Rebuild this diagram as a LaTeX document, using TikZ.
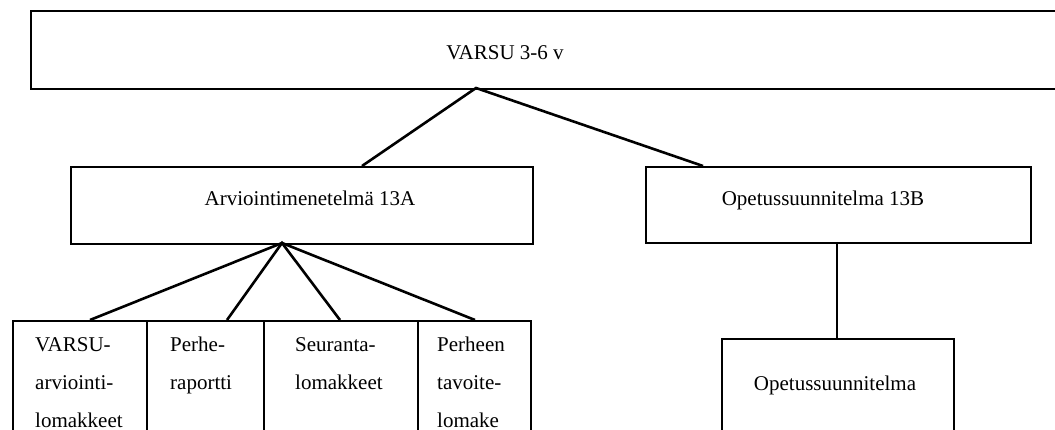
\documentclass[tikz,border=0pt]{standalone}
\usepackage{fontspec}
\setmainfont{Liberation Serif}
\begin{document}
\begin{tikzpicture}[x=1pt,y=-1pt,
  box/.style={draw, line width=1.6pt, inner sep=0pt, anchor=north west},
  lbl/.style={font=\fontsize{21}{38}\selectfont, inner sep=0pt},
  cell/.style={lbl, align=left, anchor=north west},
  link/.style={line width=2.6pt, line join=miter}]
\useasboundingbox (0,0) rectangle (1055,430);
\clip (0,0) rectangle (1055,430);
% boxes
\node[box, minimum width=1050, minimum height=78] (top) at (30,10) {};
\node[box, minimum width=462, minimum height=77] (arv) at (70,166) {};
\node[box, minimum width=385, minimum height=76] (opb) at (645,166) {};
\node[box, minimum width=232, minimum height=102] (ops) at (721,338) {};
\node[box, minimum width=134, minimum height=120] (b1) at (12,320) {};
\node[box, minimum width=117, minimum height=120] (b2) at (146,320) {};
\node[box, minimum width=154, minimum height=120] (b3) at (263,320) {};
\node[box, minimum width=113, minimum height=120] (b4) at (417,320) {};
% texts
\node[lbl, anchor=base] (ttop) at (505,60) {VARSU 3-6 v};
\node[lbl, anchor=base] (tarv) at (310,206) {Arviointimenetelmä 13A};
\node[lbl, anchor=base] (topb) at (823,206) {Opetussuunnitelma 13B};
\node[lbl, anchor=base] (tops) at (835,390) {Opetussuunnitelma};
\node[cell] (t1) at (35,337) {VARSU-\\arviointi-\\lomakkeet};
\node[cell] (t2) at (170,337) {Perhe-\\raportti};
\node[cell] (t3) at (295,337) {Seuranta-\\lomakkeet};
\node[cell] (t4) at (437,337) {Perheen\\tavoite-\\lomake};
% connector points
\coordinate (apexA) at (476,88);
\coordinate (arvIn) at (362,166);
\coordinate (opbIn) at (703,166);
\coordinate (apexB) at (282,243);
\coordinate (c1) at (90,320);
\coordinate (c2) at (227,320);
\coordinate (c3) at (340,320);
\coordinate (c4) at (475,320);
\coordinate (opbOut) at (837,242);
\coordinate (opsIn) at (837,338);
% connectors
\draw[link] (arvIn) -- (apexA) -- (opbIn);
\draw[link] (c1) -- (apexB) -- (c4);
\draw[link] (c2) -- (apexB) -- (c3);
\draw[line width=2pt] (opbOut) -- (opsIn);
\end{tikzpicture}
\end{document}
